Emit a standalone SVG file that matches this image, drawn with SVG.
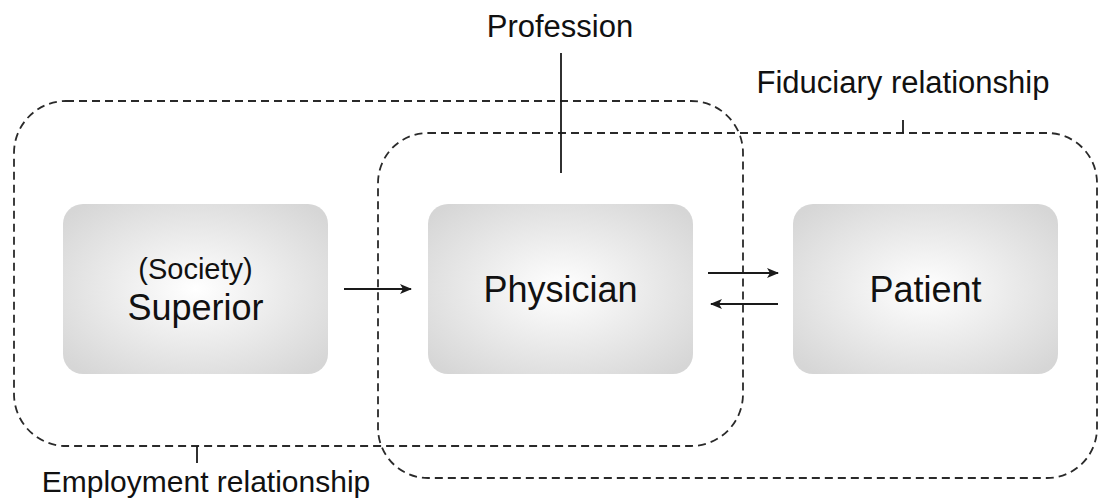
<svg xmlns="http://www.w3.org/2000/svg" width="1100" height="498" viewBox="0 0 1100 498">
<defs>
<radialGradient id="g" cx="50%" cy="50%" r="65%">
<stop offset="0" stop-color="#ffffff"/>
<stop offset="1" stop-color="#d6d6d6"/>
</radialGradient>
<marker id="ah" viewBox="0 0 12 10" refX="11" refY="5" markerWidth="12" markerHeight="10" markerUnits="userSpaceOnUse" orient="auto">
<path d="M0,0 L12,5 L0,10 L3,5 Z" fill="#1a1a1a"/>
</marker>
<style>
.box{fill:url(#g);stroke:none}
.t{font-family:"Liberation Sans",Arial,sans-serif;fill:#111;text-anchor:middle}
.dash{fill:none;stroke:#2a2a2a;stroke-width:1.8;stroke-dasharray:8 5}
.ln{stroke:#1a1a1a;stroke-width:1.8;fill:none}
</style>
</defs>
<rect width="1100" height="498" fill="#fff"/>
<g id="groups">
<rect class="dash" x="14" y="101" width="729" height="345" rx="52" ry="52"/>
<rect class="dash" x="378" y="133" width="719" height="345" rx="50" ry="50"/>
</g>
<g id="superior">
<rect class="box" x="63" y="204" width="265" height="170" rx="20" ry="20"/>
<text class="t" x="195.5" y="279" font-size="29">(Society)</text>
<text class="t" x="195.5" y="320" font-size="36">Superior</text>
</g>
<g id="physician">
<rect class="box" x="428" y="204" width="265" height="170" rx="20" ry="20"/>
<text class="t" x="560.5" y="302" font-size="36">Physician</text>
</g>
<g id="patient">
<rect class="box" x="793" y="204" width="265" height="170" rx="20" ry="20"/>
<text class="t" x="925.5" y="302" font-size="36">Patient</text>
</g>
<g id="connectors">
<line class="ln" x1="344" y1="289" x2="411" y2="289" marker-end="url(#ah)"/>
<line class="ln" x1="708" y1="273" x2="778" y2="273" marker-end="url(#ah)"/>
<line class="ln" x1="778" y1="304" x2="711" y2="304" marker-end="url(#ah)"/>
<line class="ln" x1="561" y1="53" x2="561" y2="173"/>
<line class="ln" x1="903" y1="120" x2="903" y2="133"/>
<line class="ln" x1="197" y1="446" x2="197" y2="463"/>
</g>
<g id="labels">
<text class="t" x="560" y="37" font-size="31">Profession</text>
<text class="t" x="903" y="93" font-size="31">Fiduciary relationship</text>
<text class="t" x="206" y="492" font-size="30">Employment relationship</text>
</g>
</svg>
